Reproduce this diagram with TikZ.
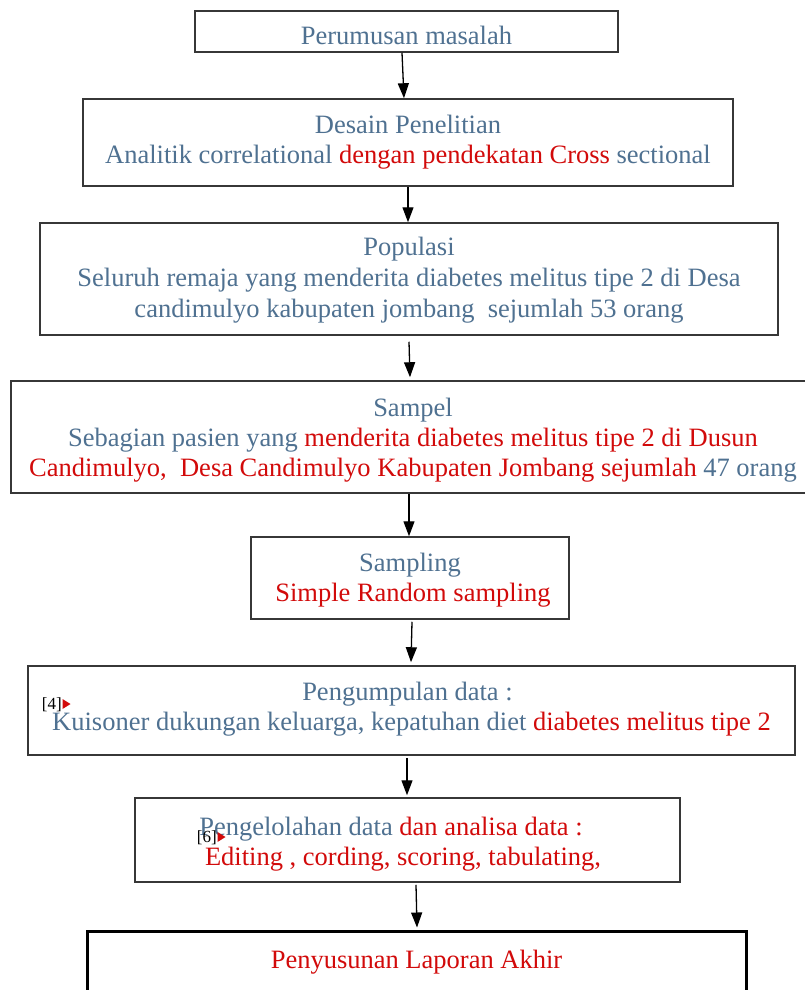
\documentclass[tikz,border=0pt]{standalone}
\usepackage{fontspec}
\setmainfont{Liberation Serif}
\usetikzlibrary{arrows.meta,calc}
\definecolor{bluetxt}{RGB}{79,113,145}
\definecolor{redtxt}{RGB}{210,10,10}
\definecolor{boxline}{RGB}{55,55,55}
\newcommand{\bt}[1]{\textcolor{bluetxt}{#1}}
\newcommand{\rt}[1]{\textcolor{redtxt}{#1}}
\newcommand{\lowr}[2]{\raisebox{-#1}[\height][\depth]{#2}}
\begin{document}
\begin{tikzpicture}[x=1pt,y=-1pt,
  flowbox/.style={draw=boxline,line width=1.5pt,inner sep=0pt,align=center,
    font=\fontsize{26.5}{30}\selectfont},
  arr/.style={-{Triangle[length=15pt,width=11pt]},line width=1.3pt,black},
  marktxt/.style={font=\fontsize{17}{17}\selectfont,inner sep=0pt,anchor=east}]
\useasboundingbox[fill=white] (0,0) rectangle (805,990);

\node[flowbox,minimum width=423,minimum height=41] (b1) at (406.5,31.5)
  {\lowr{4pt}{\bt{Perumusan masalah}}};
\node[flowbox,minimum width=650,minimum height=87] (b2) at (408,142.5)
  {\bt{Desain Penelitian}\\ \bt{Analitik correlational} \rt{dengan pendekatan Cross} \bt{sectional}};
\node[flowbox,minimum width=738,minimum height=112] (b3) at (409,279)
  {\lowr{1pt}{\bt{Populasi}}\\[1pt] \lowr{1pt}{\bt{Seluruh remaja yang menderita diabetes melitus tipe 2 di Desa}}\\[1pt]
   \lowr{1pt}{\bt{candimulyo kabupaten jombang\ \ sejumlah 53 orang}}};
\node[flowbox,minimum width=804,minimum height=112] (b4) at (413,437)
  {\lowr{3pt}{\bt{Sampel}}\\ \lowr{3pt}{\bt{Sebagian pasien yang} \rt{menderita diabetes melitus tipe 2 di Dusun}}\\
   \lowr{3pt}{\rt{Candimulyo,\ \ Desa Candimulyo Kabupaten Jombang sejumlah} \bt{47 orang}}};
\node[flowbox,minimum width=318,minimum height=82] (b5) at (410,578)
  {\lowr{2.5pt}{\bt{Sampling}}\\ \hspace*{6pt}\lowr{2.5pt}{\rt{Simple Random sampling}}};
\node[flowbox,minimum width=767,minimum height=89] (b6) at (411.5,710.5)
  {\lowr{-1pt}{\bt{Pengumpulan data :}}\hspace*{8pt}\\ \lowr{-1pt}{\bt{Kuisoner dukungan keluarga, kepatuhan diet} \rt{diabetes melitus tipe 2}}};
\node[flowbox,minimum width=545,minimum height=84] (b7) at (407.5,840)
  {\lowr{4pt}{\bt{Pengelolahan data} \rt{dan analisa data :}}\hspace*{33pt}\\
   \lowr{4pt}{\rt{Editing , cording, scoring, tabulating,}}\hspace*{9pt}};
\node[flowbox,draw=black,line width=3pt,minimum width=659,minimum height=64] (b8) at (416.5,963)
  {\lowr{-1pt}{\rt{Penyusunan Laporan Akhir}}};

% comment markers
\node[marktxt] (m4) at (62,705) {[4]};
\fill[redtxt] (m4.east) ++(0.5,-6) -- ++(8,5) -- ++(-8,5) -- cycle;
\node[marktxt] (m6) at (217,838) {[6]};
\fill[redtxt] (m6.east) ++(0.5,-6) -- ++(8,5) -- ++(-8,5) -- cycle;

% connectors
\draw[arr] ($(b1.south)+(-4.5,0)$) -- ($(b2.north)+(-4,0)$);
\draw[arr] (b2.south) -- ($(b3.north)+(-1,0)$);
\draw[arr] ($(b3.south)+(0,6)$) -- ($(b4.north)+(-3,-3)$);
\draw[arr] ($(b4.south)+(-4,0)$) -- ($(b5.north)+(-1,0)$);
\draw[arr] ($(b5.south)+(2,2)$) -- ($(b6.north)+(-0.5,-3)$);
\draw[arr] ($(b6.south)+(-4.5,2)$) -- ($(b7.north)+(-0.5,-2)$);
\draw[arr] ($(b7.south)+(8.5,2)$) -- ($(b8.north)+(0.5,-2)$);
\end{tikzpicture}
\end{document}
